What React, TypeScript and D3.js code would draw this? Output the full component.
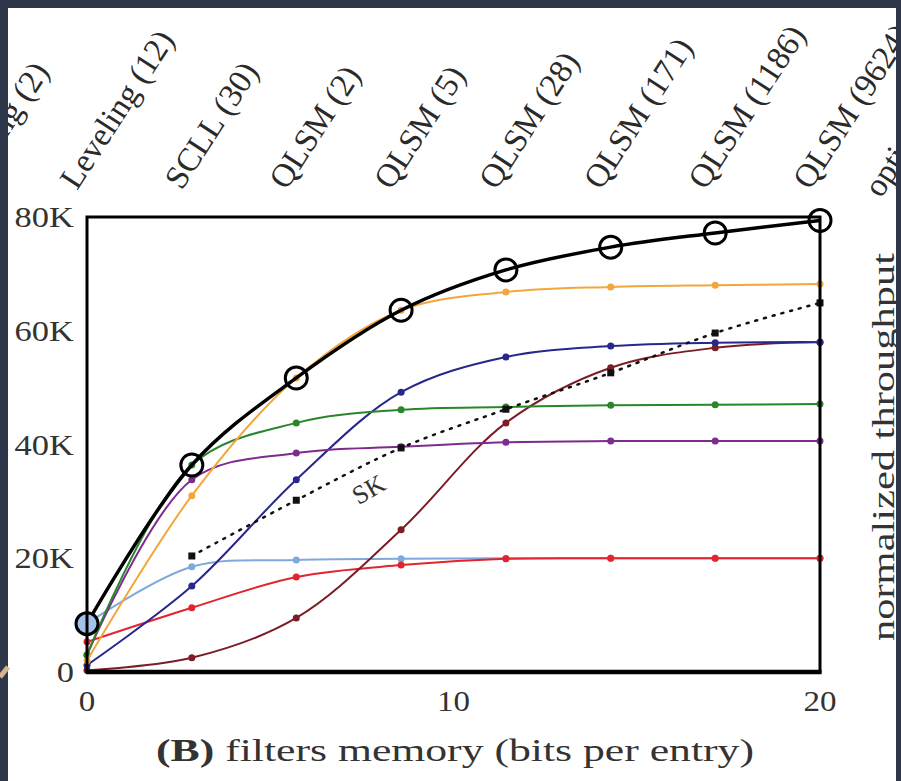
import React from 'react';
import * as d3 from 'd3';

// ---------- data (throughput in K ops/s, memory in bits per entry) ----------
const MEMORY = [0, 2.86, 5.71, 8.57, 11.43, 14.29, 17.14, 20];
const ENVELOPE = [8.5, 36.4, 51.7, 63.6, 70.7, 74.7, 77.2, 79.4];
const ORANGE = [2, 31, 51.7, 63.6, 66.8, 67.7, 68.0, 68.2];
const GREEN = [3, 36.4, 43.8, 46.1, 46.6, 46.9, 47.0, 47.1];
const PURPLE = [3, 33.8, 38.5, 39.6, 40.4, 40.6, 40.6, 40.6];
const NAVY = [1.2, 15.1, 33.8, 49.2, 55.4, 57.3, 57.9, 58.0];
const MAROON = [0.3, 2.5, 9.5, 25.0, 43.8, 53.5, 57.0, 58.0];
const LIGHTBLUE = [8.5, 18.5, 19.7, 19.9, 20.0, 20.0, 20.0, 20.0];
const RED = [5.3, 11.3, 16.7, 18.8, 19.9, 20.0, 20.0, 20.0];
const SK_MEMORY = [2.86, 5.71, 8.57, 11.43, 14.29, 17.14, 20];
const SK = [20.4, 30.2, 39.4, 46.2, 52.6, 59.6, 64.9];

const Y_TICKS = [0, 20, 40, 60, 80];
const Y_TICK_LABELS = ['0', '20K', '40K', '60K', '80K'];
const X_TICKS = [0, 10, 20];
const TOP_LABELS = ['Tiering (2)', 'Leveling (12)', 'SCLL (30)', 'QLSM (2)', 'QLSM (5)', 'QLSM (28)', 'QLSM (171)', 'QLSM (1186)', 'QLSM (9624)'];
const TOP_LABEL_AT = [-2.86, 0, 2.86, 5.71, 8.57, 11.43, 14.29, 17.14, 20];
const X_LABEL_BOLD = '(B)';
const X_LABEL_REST = ' filters memory (bits per entry)';
const Y_LABEL = 'normalized throughput';

const SERIES = [
  { name: 'lightblue', values: LIGHTBLUE, color: '#7fa8dc' },
  { name: 'red', values: RED, color: '#e3242c' },
  { name: 'maroon', values: MAROON, color: '#7a1d24' },
  { name: 'navy', values: NAVY, color: '#27278e' },
  { name: 'purple', values: PURPLE, color: '#7e2b8e' },
  { name: 'green', values: GREEN, color: '#2a862a' },
  { name: 'orange', values: ORANGE, color: '#f3a73a' },
];

const W = 901, H = 781;
const FONT = '"Liberation Serif", "Times New Roman", serif';

export default function App() {
  const x = d3.scaleLinear().domain([0, 20]).range([87, 820]);
  const y = d3.scaleLinear().domain([0, 80]).range([672, 217]);
  const line = d3.line<[number, number]>()
    .x(d => x(d[0])).y(d => y(d[1]))
    .curve(d3.curveCatmullRom.alpha(0.5));
  const pts = (vals: number[], xs = MEMORY) => vals.map((v, i) => [xs[i], v] as [number, number]);

  return (
    <svg width={W} height={H} style={{ position: 'absolute', left: 0, top: 0, background: '#fff' }}>
      <rect x={0} y={0} width={W} height={H} fill="#fff" />
      {/* top rotated labels */}
      {TOP_LABELS.map((t, i) => (
        <text key={t} transform={`translate(${x(TOP_LABEL_AT[i]) - 10},191) rotate(-57)`}
          fontFamily={FONT} fontSize={33} fill="#2a2a2a">{t}</text>
      ))}
      <text transform={`translate(881,199) rotate(-57)`} fontFamily={FONT} fontSize={33} fill="#2a2a2a">optimal</text>

      {/* series */}
      {SERIES.map(s => (
        <g key={s.name}>
          <path d={line(pts(s.values)) || ''} fill="none" stroke={s.color} strokeWidth={2} />
          {pts(s.values).map((p, i) => (
            <circle key={i} cx={x(p[0])} cy={y(p[1])} r={3.5} fill={s.color} />
          ))}
        </g>
      ))}
      {/* SK dotted */}
      <path d={line(pts(SK, SK_MEMORY)) || ''} fill="none" stroke="#111" strokeWidth={2.5}
        strokeDasharray="2 7" strokeLinecap="round" />
      {pts(SK, SK_MEMORY).map((p, i) => (
        <rect key={i} x={x(p[0]) - 3.5} y={y(p[1]) - 3.5} width={7} height={7} fill="#111" />
      ))}
      <text transform={`translate(373,497) rotate(-30)`} textAnchor="middle" fontFamily={FONT}
        fontSize={26} fill="#333">SK</text>

      {/* envelope */}
      <path d={line(pts(ENVELOPE)) || ''} fill="none" stroke="#000" strokeWidth={3.5} />
      {pts(ENVELOPE).map((p, i) => (
        <circle key={i} cx={x(p[0])} cy={y(p[1])} r={11}
          fill={i === 0 ? '#a3c3e8' : 'none'} stroke="#000" strokeWidth={3} />
      ))}

      {/* frame */}
      <rect x={x(0)} y={y(80)} width={x(20) - x(0)} height={y(0) - y(80)} fill="none" stroke="#000" strokeWidth={3} />
      <line x1={x(0) - 1} x2={x(20) + 1.5} y1={y(0)} y2={y(0)} stroke="#000" strokeWidth={4.5} />

      {/* y ticks */}
      {Y_TICKS.map((v, i) => (
        <text key={v} transform={`translate(74,${y(v) + 10}) scale(1.15,1)`} textAnchor="end"
          fontFamily={FONT} fontSize={30} fill="#333">{Y_TICK_LABELS[i]}</text>
      ))}
      {/* x ticks */}
      {X_TICKS.map(v => (
        <text key={v} transform={`translate(${x(v)},711) scale(1.1,1)`} textAnchor="middle"
          fontFamily={FONT} fontSize={30} fill="#333">{v}</text>
      ))}
      {/* x label */}
      <text x={455} y={761} textAnchor="middle" fontFamily={FONT} fontSize={32} fill="#333"
        textLength={598} lengthAdjust="spacingAndGlyphs">
        <tspan fontWeight="bold">{X_LABEL_BOLD}</tspan>{X_LABEL_REST}
      </text>
      {/* y label on right */}
      <text transform={`translate(894,447) rotate(-90)`} textAnchor="middle" fontFamily={FONT}
        fontSize={31} fill="#333" textLength={388} lengthAdjust="spacingAndGlyphs">{Y_LABEL}</text>

      {/* dark screenshot frame */}
      <rect x={0} y={0} width={8} height={H} fill="#2e3649" />
      <rect x={0} y={0} width={W} height={8} fill="#2e3649" />
      <rect x={896} y={0} width={5} height={H} fill="#2e3649" />
      <line x1={0} y1={677} x2={8} y2={667} stroke="#d8b48e" strokeWidth={5} />
    </svg>
  );
}
